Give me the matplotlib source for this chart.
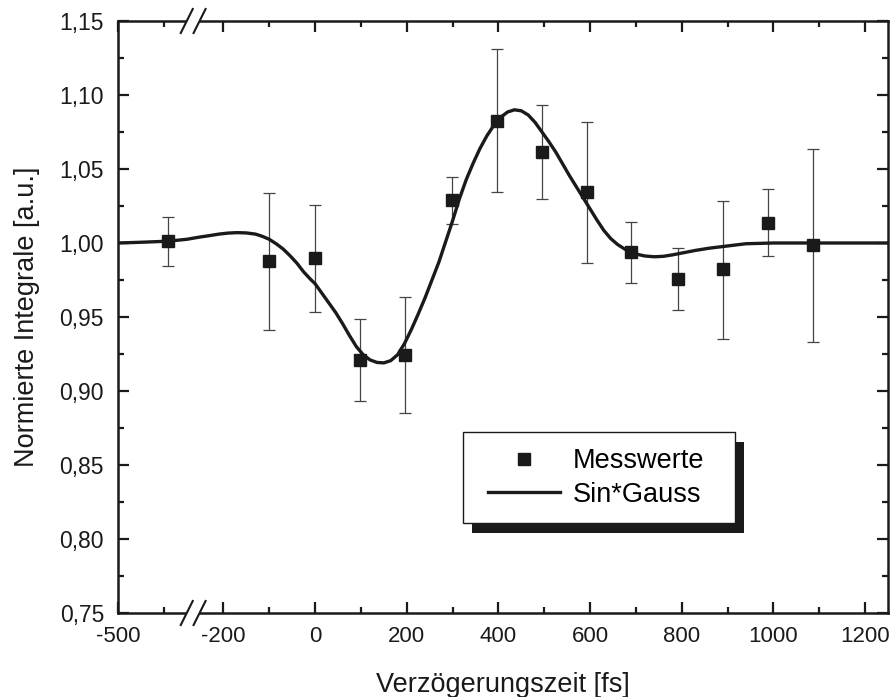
import numpy as np
import matplotlib
matplotlib.use('Agg')
import matplotlib.pyplot as plt
import matplotlib.transforms as mtransforms
from matplotlib.patches import Rectangle
from matplotlib.lines import Line2D
from matplotlib.ticker import FixedLocator, FuncFormatter

plt.rcParams['font.family'] = ['Liberation Sans', 'DejaVu Sans']
plt.rcParams['axes.unicode_minus'] = False

# Messwerte (delay in fs, normalised integral, error bar ends)
delay = [-390, -100, 0, 98, 197, 298, 396, 496, 593, 689, 791, 891, 988, 1087]
norm_int = [1.0014, 0.9878, 0.9897, 0.9210, 0.9243, 1.0290, 1.0827, 1.0617,
            1.0347, 0.9941, 0.9757, 0.9822, 1.0137, 0.9985]
err_top = [1.0174, 1.0336, 1.0257, 0.9489, 0.9637, 1.0448, 1.1309, 1.0930,
           1.0816, 1.0144, 0.9964, 1.0286, 1.0365, 1.0635]
err_bot = [0.9843, 0.9412, 0.9532, 0.8932, 0.8853, 1.0126, 1.0343, 1.0297,
           0.9867, 0.9732, 0.9550, 0.9351, 0.9914, 0.9331]

# Sin*Gauss fit
fit_x = [-500, -450, -392, -350, -252, -230, -210, -190, -170, -150, -130, -115,
         -100, -85, -70, -55, -40, -25, -10, 0, 15, 30, 45, 60, 75, 90, 105,
         120, 135, 150, 165, 180, 195, 210, 225, 240, 255, 270, 285, 300, 315,
         330, 345, 360, 375, 390, 405, 420, 435, 450, 465, 480, 495, 510, 525,
         540, 555, 570, 585, 600, 615, 630, 645, 660, 675, 690, 705, 720, 740,
         760, 780, 800, 830, 860, 900, 940, 1000, 1100, 1250]
fit_y = [1.0000, 1.0005, 1.0012, 1.0025, 1.0040, 1.0050, 1.0060, 1.0067, 1.0070,
         1.0068, 1.0060, 1.0045, 1.0025, 0.9995, 0.9960, 0.9915, 0.9865, 0.9805,
         0.9755, 0.9725, 0.9660, 0.9595, 0.9530, 0.9455, 0.9375, 0.9300, 0.9245,
         0.9210, 0.9193, 0.9190, 0.9205, 0.9245, 0.9320, 0.9415, 0.9520, 0.9630,
         0.9750, 0.9870, 1.0010, 1.0150, 1.0300, 1.0430, 1.0540, 1.0640, 1.0725,
         1.0795, 1.0850, 1.0885, 1.0900, 1.0893, 1.0865, 1.0815, 1.0750, 1.0685,
         1.0615, 1.0535, 1.0455, 1.0380, 1.0305, 1.0230, 1.0155, 1.0085, 1.0030,
         0.9990, 0.9960, 0.9938, 0.9922, 0.9912, 0.9907, 0.9910, 0.9920, 0.9932,
         0.9950, 0.9965, 0.9980, 0.9995, 1.0000, 1.0000, 1.0000]

x_major = [-500, -200, 0, 200, 400, 600, 800, 1000, 1200]
x_minor = [-400, -100, 100, 300, 500, 700, 900, 1100]

# axis break between these two delays
BREAK_LO = -350
BREAK_HI = -252
GAP = 70


def fwd(x):
    x = np.asarray(x, dtype=float)
    mid_slope = (BREAK_HI - BREAK_LO - GAP) / (BREAK_HI - BREAK_LO)
    mid = BREAK_LO + GAP + (x - BREAK_LO) * mid_slope
    return np.where(x <= BREAK_LO, x + GAP, np.where(x >= BREAK_HI, x, mid))


def inv(u):
    u = np.asarray(u, dtype=float)
    lo = BREAK_LO + GAP
    mid_slope = (BREAK_HI - BREAK_LO - GAP) / (BREAK_HI - BREAK_LO)
    mid = BREAK_LO + (u - lo) / mid_slope
    return np.where(u <= lo, u - GAP, np.where(u >= BREAK_HI, u, mid))


fig = plt.figure(figsize=(8.93, 6.97), dpi=100)
ax = fig.add_axes([118 / 893, 1 - 613 / 697, 770 / 893, 592 / 697])
ax.set_xscale('function', functions=(fwd, inv))

yerr = [np.array(norm_int) - np.array(err_bot), np.array(err_top) - np.array(norm_int)]
ax.errorbar(delay, norm_int, yerr=yerr, fmt='none', ecolor='#444444',
            elinewidth=0.9, capsize=4.5, capthick=0.9, zorder=2)
ax.plot(fit_x, fit_y, color='#1a1a1a', lw=2.4, zorder=3, label='Sin*Gauss',
        solid_joinstyle='round')
ax.plot(delay, norm_int, 's', color='#1a1a1a', ms=8.4, zorder=4, label='Messwerte')

ax.set_xlim(-500, 1250)
ax.set_ylim(0.75, 1.15)
ax.xaxis.set_major_locator(FixedLocator(x_major))
ax.xaxis.set_minor_locator(FixedLocator(x_minor))
ax.set_yticks(np.arange(0.75, 1.1501, 0.05))
ax.set_yticks(np.arange(0.775, 1.15, 0.05), minor=True)
ax.yaxis.set_major_formatter(FuncFormatter(lambda v, p: f'{v:.2f}'.replace('.', ',')))
ax.xaxis.set_major_formatter(FuncFormatter(lambda v, p: f'{v:.0f}'))

ax.tick_params(which='both', direction='in', top=True, right=True,
               labelsize=16, width=1.6, colors='#1a1a1a')
ax.tick_params(which='major', length=8, pad=9)
ax.tick_params(axis='y', labelsize=16.5, pad=10)
ax.tick_params(which='minor', length=4.5)
for s in ax.spines.values():
    s.set_linewidth(1.8)
    s.set_color('#1a1a1a')

ax.set_xlabel('Verzögerungszeit [fs]', fontsize=19.5, labelpad=18, color='#1a1a1a')
ax.set_ylabel('Normierte Integrale [a.u.]', fontsize=19.5, labelpad=14, color='#1a1a1a')

# break marks on bottom and top axis
trans = mtransforms.blended_transform_factory(ax.transData, ax.transAxes)
for yy in (0, 1):
    ax.add_patch(Rectangle((BREAK_LO, yy - 0.006), BREAK_HI - BREAK_LO, 0.012,
                           transform=trans, facecolor='white', edgecolor='none',
                           clip_on=False, zorder=6))
    for xb in (BREAK_LO, BREAK_HI):
        fx = ax.transAxes.inverted().transform(ax.transData.transform((xb, 1.0)))[0]
        dx, dy = 6 / 770, 12 / 592
        ax.add_line(Line2D([fx - dx, fx + dx], [yy - dy, yy + dy], transform=ax.transAxes,
                           color='#1a1a1a', lw=1.5, clip_on=False, zorder=7))

# legend: entries without frame, box and shadow drawn separately
handles, labels = ax.get_legend_handles_labels()
leg = ax.legend(handles[::-1], labels[::-1], loc='center left',
                bbox_to_anchor=(0.4805, 0.228), borderaxespad=0, borderpad=0,
                fontsize=19.5, handlelength=2.67, handletextpad=0.45,
                labelspacing=0.28, frameon=False)
leg.set_zorder(10)

box_x, box_y, box_w, box_h = 0.448, 0.152, 0.353, 0.154
ax.add_patch(Rectangle((box_x, box_y), box_w, box_h, transform=ax.transAxes,
                       facecolor='white', edgecolor='#1a1a1a', lw=1.0, zorder=8.5))
ax.add_patch(Rectangle((box_x + 9 / 770, box_y - 10 / 592), box_w, box_h,
                       transform=ax.transAxes, facecolor='#1a1a1a',
                       edgecolor='none', zorder=8))

fig.savefig('out.png', dpi=100)
